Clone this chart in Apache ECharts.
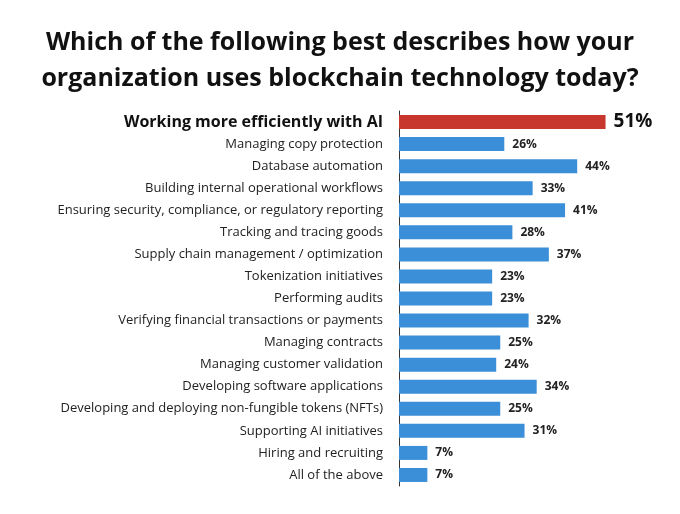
<!DOCTYPE html>
<html><head><meta charset="utf-8">
<script src="https://cdn.jsdelivr.net/npm/echarts@6/dist/echarts.min.js"></script>
<style>html,body{margin:0;padding:0;background:#fff}#c{width:680px;height:514px}</style>
</head><body><div id="c"></div>
<script>
var categories = ['Working more efficiently with AI','Managing copy protection','Database automation','Building internal operational workflows','Ensuring security, compliance, or regulatory reporting','Tracking and tracing goods','Supply chain management / optimization','Tokenization initiatives','Performing audits','Verifying financial transactions or payments','Managing contracts','Managing customer validation','Developing software applications','Developing and deploying non-fungible tokens (NFTs)','Supporting AI initiatives','Hiring and recruiting','All of the above'];
var values = [51,26,44,33,41,28,37,23,23,32,25,24,34,25,31,7,7];

var chart = echarts.init(document.getElementById('c'));
var data = values.map(function (v, i) {
  if (i === 0) return {value: v, itemStyle: {color: '#c8372d'}, label: {fontSize: 19, color: '#111'}};
  return v;
});
chart.setOption({
  title: {
    text: 'Which of the following best describes how your\norganization uses blockchain technology today?',
    left: 'center', top: 20,
    textStyle: {fontFamily: 'Open Sans', fontWeight: 'bold', fontSize: 25, lineHeight: 36, color: '#111'}
  },
  grid: {left: 399, right: 38, top: 111, bottom: 28},
  xAxis: {type: 'value', min: 0, max: 60, show: false},
  yAxis: {
    type: 'category', inverse: true, data: categories,
    axisLine: {lineStyle: {color: '#333', width: 1}},
    axisTick: {show: false},
    axisLabel: {
      margin: 16, fontFamily: 'Open Sans', fontSize: 13, color: '#222',
      formatter: function (v, i) { return i === 0 ? '{b|' + v + '}' : v; },
      rich: {b: {fontFamily: 'Open Sans', fontSize: 16, fontWeight: 'bold', color: '#111'}}
    }
  },
  series: [{
    type: 'bar', data: data, barWidth: 14,
    itemStyle: {color: '#3b8fd8'},
    label: {show: true, position: 'right', distance: 8, formatter: '{c}%',
      fontFamily: 'Open Sans', fontWeight: 'bold', fontSize: 12, color: '#222'}
  }],
  animation: false
});
</script></body></html>
